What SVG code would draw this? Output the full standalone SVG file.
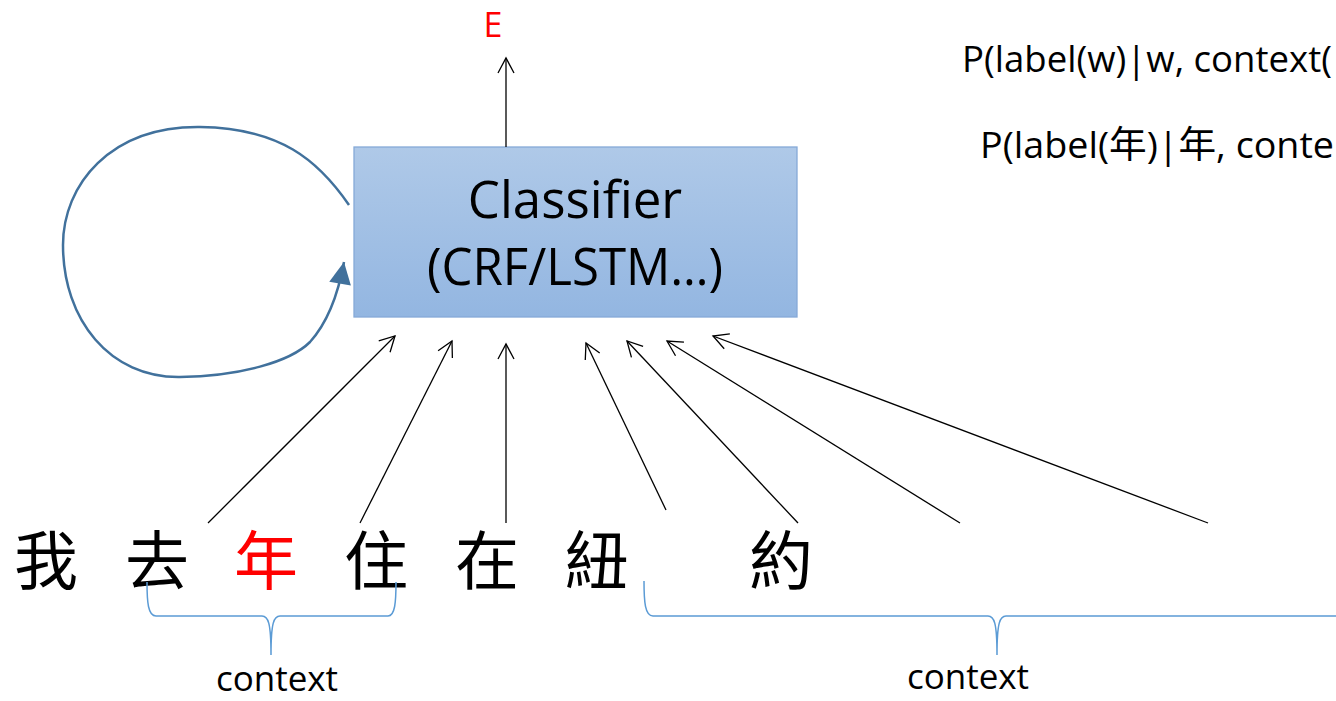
<svg xmlns="http://www.w3.org/2000/svg" width="1336" height="701" viewBox="0 0 1336 701">
<style>
.lat{font-family:"Open Sans","Noto Sans CJK TC",sans-serif;fill:#000}
.cjk{font-family:"Noto Sans CJK TC","Noto Sans CJK SC",sans-serif;font-size:64px;fill:#000;text-anchor:middle}
.in{stroke:#000;stroke-width:1.3;fill:none;marker-end:url(#open)}
.brace{stroke:#5b9bd5;stroke-width:1.5;fill:none}
</style>
<defs>
<linearGradient id="boxg" x1="0" y1="0" x2="0" y2="1">
<stop offset="0" stop-color="#afc9e8"/>
<stop offset="1" stop-color="#93b6e1"/>
</linearGradient>
<marker id="open" viewBox="-17 -10 20 20" refX="0" refY="0" markerWidth="20" markerHeight="20" orient="auto" markerUnits="userSpaceOnUse">
<path d="M-15,-8 L0,0 L-15,8" fill="none" stroke="#000" stroke-width="1.3"/>
</marker>
<marker id="solid" viewBox="-24 -13 26 26" refX="0" refY="0" markerWidth="26" markerHeight="26" orient="auto" markerUnits="userSpaceOnUse">
<path d="M-22,-11 L0,0 L-22,11 Z" fill="#41719c"/>
</marker>
</defs>

<g id="classifier">
<rect x="354" y="147" width="443" height="170" fill="url(#boxg)" stroke="#86aad8" stroke-width="1.3"/>
<text class="lat" x="575" y="218" font-size="51" text-anchor="middle">Classifier</text>
<text class="lat" x="575" y="285" font-size="51" text-anchor="middle" textLength="296" lengthAdjust="spacingAndGlyphs">(CRF/LSTM…)</text>
</g>

<g id="output-e">
<text class="lat" x="493" y="37" font-size="34" text-anchor="middle" style="fill:#ff0000">E</text>
</g>

<g id="formulas">
<text class="lat" x="962" y="72" font-size="37" textLength="370" lengthAdjust="spacingAndGlyphs">P(label(w)|w, context(</text>
<text class="lat" x="980" y="158" font-size="37" textLength="354" lengthAdjust="spacingAndGlyphs">P(label(年)|年, conte</text>
</g>

<g id="chars">
<text class="cjk" x="46" y="584">我</text>
<text class="cjk" x="157" y="584">去</text>
<text class="cjk" x="266" y="584" style="fill:#ff0000">年</text>
<text class="cjk" x="376" y="584">住</text>
<text class="cjk" x="487" y="584">在</text>
<text class="cjk" x="597" y="584">紐</text>
<text class="cjk" x="781" y="584">約</text>
</g>

<g id="context-left">
<path class="brace" d="M147,582 C147,602 148,616 156,616 L262,616 C268,616 271,622 271,655 C271,622 274,616 280,616 L388,616 C395,616 396,602 396,582"/>
<text class="lat" x="277" y="691" font-size="35" text-anchor="middle">context</text>
</g>

<g id="context-right">
<path class="brace" d="M644,581 C644,602 645,616 653,616 L988,616 C994,616 997,622 997,655 C997,622 1000,616 1006,616 L1340,616"/>
<text class="lat" x="968" y="689" font-size="35" text-anchor="middle">context</text>
</g>

<g id="connectors">
<line class="in" x1="506" y1="147" x2="506" y2="58"/>
<path d="M349,205 C318,160 280,128 200,127 C110,126 63,185 63,245 C63,320 110,378 180,377 C240,376 290,362 310,342 C328,322 338,295 344,262" fill="none" stroke="#41719c" stroke-width="2.5" marker-end="url(#solid)"/>
<line class="in" x1="208" y1="523" x2="395" y2="336"/>
<line class="in" x1="360" y1="523" x2="452" y2="341"/>
<line class="in" x1="506" y1="523" x2="506" y2="344"/>
<line class="in" x1="666" y1="510" x2="586" y2="343"/>
<line class="in" x1="798" y1="523" x2="627" y2="341"/>
<line class="in" x1="960" y1="523" x2="667" y2="341"/>
<line class="in" x1="1208" y1="523" x2="713" y2="336"/>
</g>
</svg>
